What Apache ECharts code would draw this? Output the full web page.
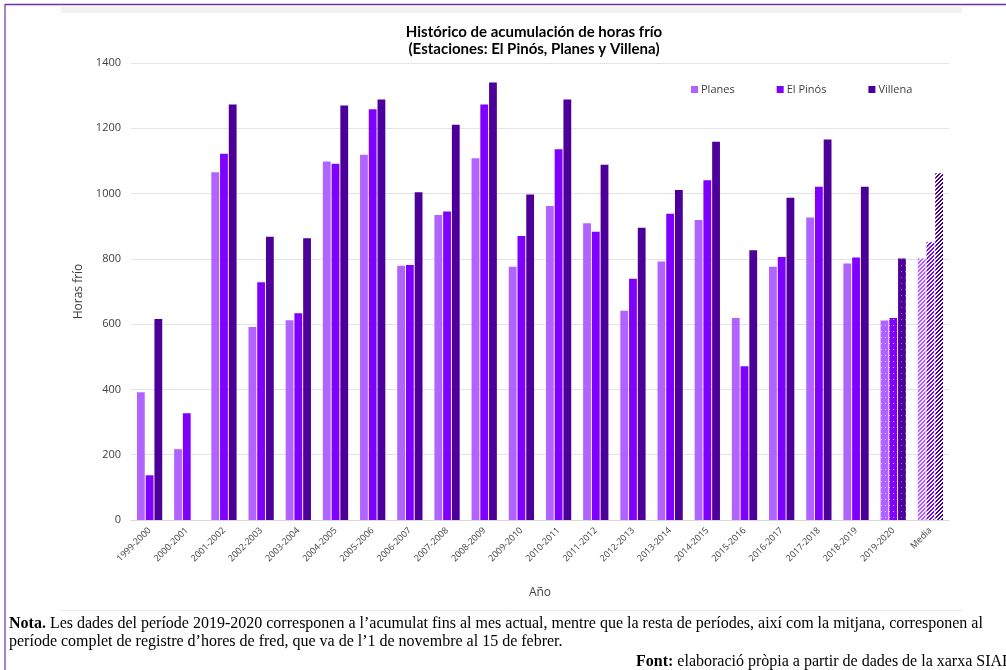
<!DOCTYPE html>
<html>
<head>
<meta charset="utf-8">
<script src="https://cdn.jsdelivr.net/npm/echarts@6/dist/echarts.min.js"></script>
<style>
  html, body { margin: 0; padding: 0; background: #fff; }
  #main { width: 1006px; height: 670px; }
</style>
</head>
<body>
<div id="main"></div>
<script>
// periodos (eje x)
var categories = ["1999-2000", "2000-2001", "2001-2002", "2002-2003", "2003-2004", "2004-2005",
  "2005-2006", "2006-2007", "2007-2008", "2008-2009", "2009-2010", "2010-2011", "2011-2012",
  "2012-2013", "2013-2014", "2014-2015", "2015-2016", "2016-2017", "2017-2018", "2018-2019",
  "2019-2020", "Media"];
// horas frío por estación
var planes = [391, 217, 1065, 591, 612, 1098, 1119, 779, 934, 1108, 776, 962, 909, 641, 792, 919, 619, 776, 927, 786, 611, 801];
var elPinos = [137, 327, 1122, 728, 633, 1091, 1258, 781, 945, 1273, 870, 1136, 883, 739, 938, 1041, 471, 806, 1021, 804, 619, 851];
var villena = [616, null, 1273, 868, 863, 1270, 1288, 1004, 1211, 1340, 997, 1288, 1088, 895, 1011, 1159, 826, 987, 1166, 1021, 801, 1062];
var yTicks = [0, 200, 400, 600, 800, 1000, 1200, 1400];

var colPlanes = "#B063FF", colPinos = "#7F00FF", colVillena = "#4C0099";

// trama de puntos (periodo en curso)
function dotPattern(base, dot) {
  var c = document.createElement("canvas");
  c.width = 4; c.height = 6;
  var ctx = c.getContext("2d");
  ctx.fillStyle = base; ctx.fillRect(0, 0, 4, 6);
  ctx.fillStyle = dot; ctx.fillRect(1, 1, 1, 1);
  return { image: c, repeat: "repeat" };
}
// trama rayada (media)
function hatchPattern(base, bg) {
  var c = document.createElement("canvas");
  c.width = 4; c.height = 4;
  var ctx = c.getContext("2d");
  ctx.fillStyle = bg; ctx.fillRect(0, 0, 4, 4);
  ctx.fillStyle = base;
  for (var x = 0; x < 4; x++) {
    for (var y = 0; y < 4; y++) {
      if ((x + y) % 4 < 2) ctx.fillRect(x, y, 1, 1);
    }
  }
  return { image: c, repeat: "repeat" };
}

function buildData(values, base, dotCol, hatchBg) {
  return values.map(function (v, i) {
    if (i === 20) return { value: v, itemStyle: { color: dotPattern(base, dotCol) } };
    if (i === 21) return { value: v, itemStyle: { color: hatchPattern(base, hatchBg) } };
    return v;
  });
}

var myChart = echarts.init(document.getElementById("main"));
var option = {
  backgroundColor: "#fff",
  animation: false,
  textStyle: { fontFamily: "Open Sans" },
  title: {
    text: "Histórico de acumulación de horas frío\n(Estaciones: El Pinós, Planes y Villena)",
    left: 529,
    textAlign: "center",
    top: 19,
    textStyle: { fontFamily: "Lato", fontSize: 15, fontWeight: "bold", color: "#000", lineHeight: 17 }
  },
  legend: {
    data: ["Planes", "El Pinós", "Villena"],
    left: 686,
    top: 79,
    itemWidth: 7,
    itemHeight: 7,
    itemGap: 42,
    icon: "rect",
    textStyle: { fontSize: 11, color: "#404040", padding: [0, 0, 0, -2] }
  },
  grid: { left: 131, right: 57, top: 63, bottom: 150 },
  xAxis: {
    type: "category",
    data: categories,
    name: "Año",
    nameLocation: "middle",
    nameGap: 67,
    nameTextStyle: { fontSize: 12, color: "#404040" },
    axisTick: { show: false },
    axisLine: { lineStyle: { color: "#d9d9d9" } },
    axisLabel: { rotate: 45, fontSize: 9, color: "#404040", interval: 0, margin: 9 }
  },
  yAxis: {
    type: "value",
    min: yTicks[0],
    max: yTicks[yTicks.length - 1],
    interval: 200,
    name: "Horas frío",
    nameLocation: "middle",
    nameGap: 46,
    nameTextStyle: { fontSize: 12, color: "#404040" },
    axisLine: { show: false },
    axisTick: { show: false },
    axisLabel: { fontSize: 11, color: "#404040", margin: 10, formatter: function (v) { return String(v); } },
    splitLine: { lineStyle: { color: "#e3e3e3" } }
  },
  series: [
    { name: "Planes", type: "bar", barGap: "12%", barCategoryGap: "32%",
      itemStyle: { color: colPlanes }, data: buildData(planes, colPlanes, "#d9b3ff", "#ecdcff") },
    { name: "El Pinós", type: "bar", barGap: "12%", barCategoryGap: "32%",
      itemStyle: { color: colPinos }, data: buildData(elPinos, colPinos, "#d9b3ff", "#ffffff") },
    { name: "Villena", type: "bar", barGap: "12%", barCategoryGap: "32%",
      itemStyle: { color: colVillena }, data: buildData(villena, colVillena, "#9a66cc", "#ffffff") }
  ],
  graphic: [
    // marco y bandas
    { type: "rect", shape: { x: 61, y: 7, width: 901, height: 6 }, style: { fill: "#f2f2f2" }, silent: true },
    { type: "line", shape: { x1: 5, y1: 4.5, x2: 1006, y2: 4.5 }, style: { stroke: "#7030A0", lineWidth: 1.5 }, silent: true },
    { type: "line", shape: { x1: 5, y1: 4, x2: 5, y2: 670 }, style: { stroke: "#7030A0", lineWidth: 1.2 }, silent: true },
    { type: "line", shape: { x1: 60, y1: 610.5, x2: 963, y2: 610.5 }, style: { stroke: "#ededed", lineWidth: 1 }, silent: true },
    // notas
    { type: "text", left: 9, top: 615,
      style: {
        text: "{b|Nota.} Les dades del període 2019-2020 corresponen a l’acumulat fins al mes actual, mentre que la resta de períodes, així com la mitjana, corresponen al\nperíode complet de registre d’hores de fred, que va de l’1 de novembre al 15 de febrer.",
        font: "16px 'Liberation Serif'", fill: "#000", lineHeight: 18,
        rich: { b: { fontWeight: "bold", fontFamily: "Liberation Serif", fontSize: 16, lineHeight: 18 } }
      } },
    { type: "text", left: 636, top: 653,
      style: {
        text: "{b|Font:} elaboració pròpia a partir de dades de la xarxa SIAR",
        font: "16px 'Liberation Serif'", fill: "#000", lineHeight: 18,
        rich: { b: { fontWeight: "bold", fontFamily: "Liberation Serif", fontSize: 16, lineHeight: 18 } }
      } }
  ]
};
myChart.setOption(option);
</script>
</body>
</html>
